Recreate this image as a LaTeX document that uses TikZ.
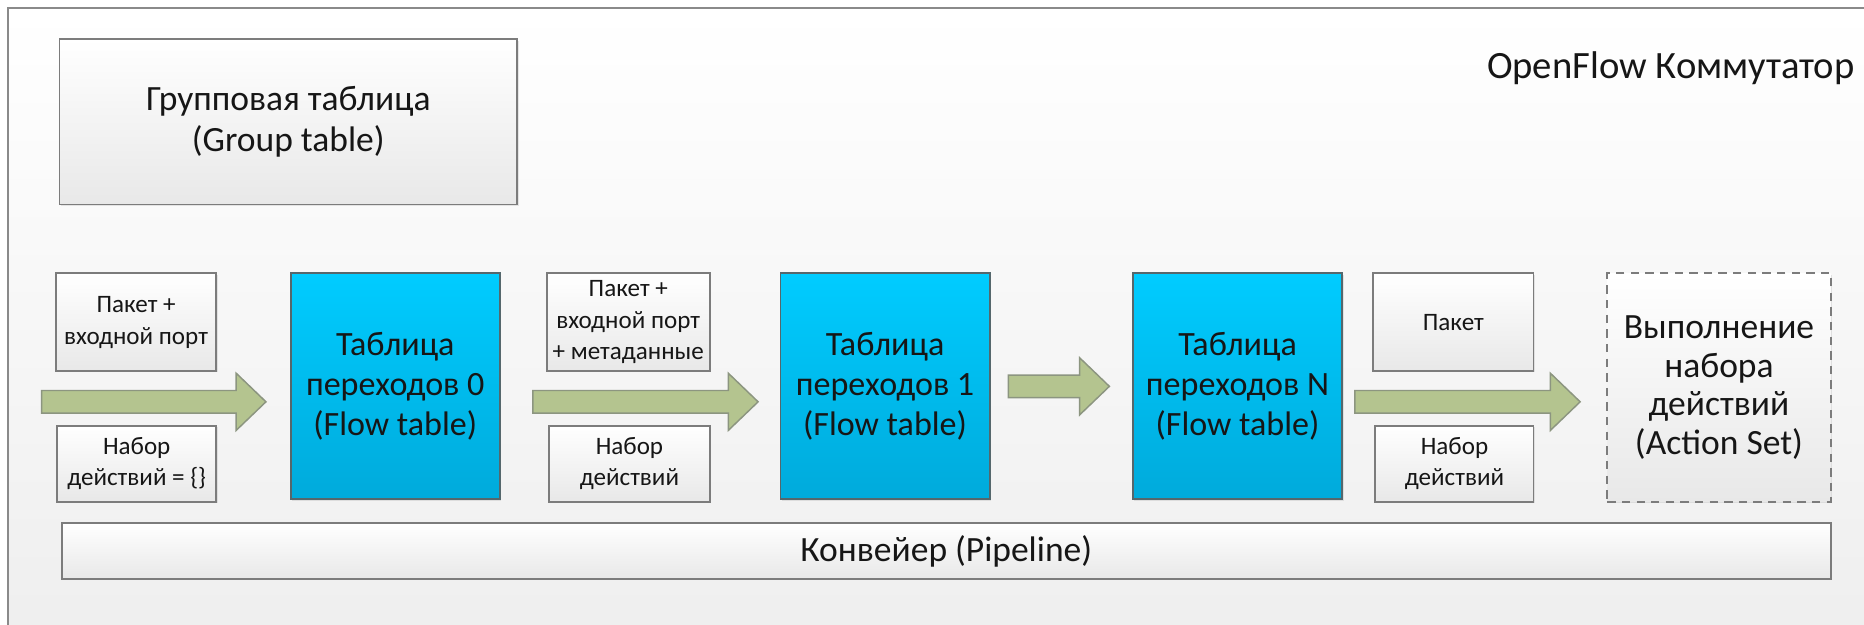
\documentclass[tikz,border=0pt]{standalone}
\usepackage{fontspec}
\setmainfont{Carlito}
\usetikzlibrary{calc,shadows}
\definecolor{framegray}{HTML}{8A8A8A}
\definecolor{boxline}{HTML}{7C7C7C}
\definecolor{fttop}{HTML}{00CCFF}
\definecolor{ftbot}{HTML}{00AADB}
\definecolor{ftline}{HTML}{55676C}
\definecolor{arrowfill}{HTML}{B4C48F}
\definecolor{arrowline}{HTML}{8C9580}
\definecolor{txt}{HTML}{161616}

% block arrow from #1 to #2 (kept horizontal)
\newcommand\fatarrow[2]{%
  \filldraw[fat] let \p1=(#1), \p2=(#2) in
    (\x1,\y1+0.19cm) -- (\x2-0.5cm,\y1+0.19cm) -- (\x2-0.5cm,\y1+0.48cm) -- (\x2,\y1)
    -- (\x2-0.5cm,\y1-0.48cm) -- (\x2-0.5cm,\y1-0.19cm) -- (\x1,\y1-0.19cm) -- cycle;}

\begin{document}
\begin{tikzpicture}[
  every node/.style={text=txt,align=center,inner sep=2pt},
  greybox/.style={draw=boxline,line width=0.9pt,top color=white,bottom color=black!9,
    drop shadow={opacity=0.18,shadow xshift=0.7pt,shadow yshift=-0.7pt}},
  smallbox/.style={greybox,font=\fontsize{12}{15.2}\selectfont},
  bigtext/.style={font=\fontsize{17}{19.6}\selectfont},
  flowbox/.style={draw=ftline,line width=0.9pt,top color=fttop,bottom color=ftbot,
    minimum width=3.52cm,minimum height=3.8cm,font=\fontsize{16.3}{19}\selectfont,
    drop shadow={opacity=0.18,shadow xshift=0.7pt,shadow yshift=-0.7pt}},
  fat/.style={fill=arrowfill,draw=arrowline,line width=0.7pt}]
  \useasboundingbox (0,0) rectangle (31.36,10.5);
  \clip (0,0) rectangle (31.36,10.5);
  % switch frame
  \draw[draw=framegray,line width=1pt,top color=white,bottom color=black!7] (0.13,-1) rectangle (32,10.36);
  \node[anchor=east,font=\fontsize{18.5}{21}\selectfont] (switch) at (31.28,9.36) {OpenFlow Коммутатор};

  \node[greybox,bigtext,minimum width=7.7cm,minimum height=2.78cm] (group) at (4.85,8.45) {Групповая таблица\\(Group table)};

  % pipeline stages
  \node[smallbox,minimum width=2.7cm,minimum height=1.64cm] (pkt0) at (2.29,5.08) {Пакет +\\входной порт};
  \node[smallbox,minimum width=2.68cm,minimum height=1.28cm] (set0) at (2.30,2.70) {Набор\\действий = \{\}};
  \node[flowbox] (ft0) at (6.65,4.0) {Таблица\\переходов 0\\(Flow table)};

  \node[smallbox,minimum width=2.74cm,minimum height=1.64cm] (pkt1) at (10.57,5.08) {Пакет +\\входной порт\\+ метаданные};
  \node[smallbox,minimum width=2.7cm,minimum height=1.28cm] (set1) at (10.59,2.70) {Набор\\действий};
  \node[flowbox] (ft1) at (14.89,4.0) {Таблица\\переходов 1\\(Flow table)};

  \node[flowbox] (ftN) at (20.82,4.0) {Таблица\\переходов N\\(Flow table)};

  \node[smallbox,minimum width=2.7cm,minimum height=1.64cm] (pktN) at (24.45,5.08) {Пакет};
  \node[smallbox,minimum width=2.66cm,minimum height=1.28cm] (setN) at (24.47,2.70) {Набор\\действий};

  \node[greybox,bigtext,dashed,dash pattern=on 4pt off 3pt,drop shadow={opacity=0},minimum width=3.76cm,minimum height=3.84cm,
    font=\fontsize{17}{18.6}\selectfont] (exec) at (28.92,3.98) {Выполнение\\набора\\действий\\(Action Set)};

  \node[greybox,bigtext,minimum width=29.76cm,minimum height=0.94cm] (pipe) at (15.92,1.23) {Конвейер (Pipeline)};

  \coordinate (in) at (0.7,3.74);
  \fatarrow{in}{[xshift=-0.4cm]ft0.west}
  \fatarrow{[xshift=0.54cm,yshift=-0.26cm]ft0.east}{[xshift=-0.36cm]ft1.west}
  \fatarrow{[xshift=0.3cm]ft1.east}{[xshift=-0.38cm]ftN.west}
  \fatarrow{[xshift=0.2cm,yshift=-0.26cm]ftN.east}{[xshift=-0.44cm]exec.west}
\end{tikzpicture}
\end{document}
